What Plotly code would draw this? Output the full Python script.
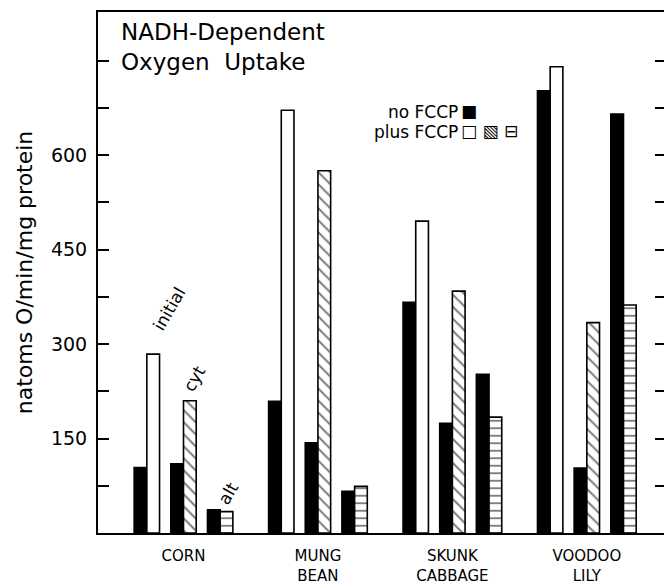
import plotly.graph_objects as go

categories = ["CORN", "MUNG<br>BEAN", "SKUNK<br>CABBAGE", "VOODOO<br>LILY"]
no_fccp_initial = [104, 209, 366, 702]
plus_fccp_initial = [284, 671, 495, 740]
no_fccp_cyt = [110, 143, 174, 103]
plus_fccp_cyt = [210, 575, 384, 334]
no_fccp_alt = [37, 66, 252, 665]
plus_fccp_alt = [34, 74, 184, 362]

y_tick_vals = [75, 150, 225, 300, 375, 450, 525, 600, 675, 750]
y_tick_text = ["", "150", "", "300", "", "450", "", "600", "", ""]

FONT = "DejaVu Sans"
W, H = 664, 587
ML, MR, MT, MB = 98, 0, 12, 54
XR = [-0.636, 3.574]
YR = [0, 827]

pair_off = 0.2727
bw = 0.0944
gx = list(range(len(categories)))

series = [
    (no_fccp_initial, -pair_off, -1, dict(color="black"), "no FCCP initial"),
    (plus_fccp_initial, -pair_off, 1, dict(color="white"), "plus FCCP initial"),
    (no_fccp_cyt, 0, -1, dict(color="black"), "no FCCP cyt"),
    (plus_fccp_cyt, 0, 1, dict(color="white", pattern=dict(shape="\\", size=8.5, solidity=0.25, fgcolor="black", bgcolor="white")), "plus FCCP cyt"),
    (no_fccp_alt, pair_off, -1, dict(color="black"), "no FCCP alt"),
    (plus_fccp_alt, pair_off, 1, dict(color="white", pattern=dict(shape="-", size=7.5, solidity=0.25, fgcolor="black", bgcolor="white")), "plus FCCP alt"),
]

fig = go.Figure()
for vals, off, side, mk, name in series:
    xs = [g + off + side * bw / 2 for g in gx]
    m = dict(mk)
    m["line"] = dict(color="black", width=1.6)
    fig.add_trace(go.Bar(x=xs, y=vals, width=[bw] * len(xs), marker=m, name=name, showlegend=False))

# invisible trace to carry right-side ticks
fig.add_trace(go.Scatter(x=[None], y=[None], yaxis="y2", showlegend=False, hoverinfo="skip"))

fig.update_layout(
    width=W, height=H,
    margin=dict(l=ML, r=MR, t=MT, b=MB, autoexpand=False),
    plot_bgcolor="white", paper_bgcolor="white",
    barmode="overlay",
    font=dict(family=FONT, color="black"),
    xaxis=dict(range=XR, showgrid=False, zeroline=False, showline=True, linecolor="black", linewidth=2,
               mirror=True, ticks="", tickvals=gx, ticktext=categories, automargin=False,
               tickfont=dict(size=15, family=FONT), ticklabelstandoff=8),
    yaxis=dict(range=YR, showgrid=False, zeroline=False, showline=True, linecolor="black", linewidth=2,
               ticks="inside", ticklen=11, tickwidth=2, tickcolor="black", automargin=False,
               tickvals=y_tick_vals, ticktext=y_tick_text, tickfont=dict(size=19, family=FONT),
               ticklabelstandoff=5,
               title=dict(text="natoms O/min/mg protein", font=dict(size=22, family=FONT), standoff=12)),
    yaxis2=dict(range=YR, overlaying="y", side="right", showgrid=False, zeroline=False, showline=False,
                ticks="inside", ticklen=9, tickwidth=2, tickcolor="black", automargin=False,
                tickvals=y_tick_vals, showticklabels=False),
)

pw = W - ML - MR
ph = H - MT - MB
def px_x(x):
    return (x - ML) / pw
def px_y(y):
    return 1 - (y - MT) / ph

anns = []
anns.append(dict(text="NADH-Dependent<br>Oxygen  Uptake", xref="paper", yref="paper",
                 x=px_x(119), y=px_y(17), xanchor="left", yanchor="top", align="left",
                 showarrow=False, font=dict(size=23, family=FONT)))
anns.append(dict(text="no FCCP", xref="paper", yref="paper",
                 x=px_x(459), y=px_y(112), xanchor="right", yanchor="middle", align="right",
                 showarrow=False, font=dict(size=17, family=FONT), borderpad=0))
anns.append(dict(text="plus FCCP", xref="paper", yref="paper",
                 x=px_x(459), y=px_y(132), xanchor="right", yanchor="middle", align="right",
                 showarrow=False, font=dict(size=17, family=FONT), borderpad=0))
anns.append(dict(text="■", xref="paper", yref="paper",
                 x=px_x(460), y=px_y(111), xanchor="left", yanchor="middle", align="left",
                 showarrow=False, font=dict(size=17, family=FONT), borderpad=0))
anns.append(dict(text="□ ▧ ⊟", xref="paper", yref="paper",
                 x=px_x(460), y=px_y(131), xanchor="left", yanchor="middle", align="left",
                 showarrow=False, font=dict(size=17, family=FONT), borderpad=0))

# rotated labels over corn bars
labels = [("initial", plus_fccp_initial, -pair_off, 16, 45),
          ("cyt", plus_fccp_cyt, 0, 4, 22),
          ("alt", plus_fccp_alt, pair_off, 1, 18)]
for txt, vals, off, xs_, ys_ in labels:
    anns.append(dict(text=txt, x=gx[0] + off + bw / 2, y=vals[0], xref="x", yref="y",
                     xanchor="center", yanchor="middle", xshift=xs_, yshift=ys_,
                     textangle=-60, showarrow=False, font=dict(size=17, family=FONT)))

fig.update_layout(annotations=anns)
fig.write_html("out.html")
